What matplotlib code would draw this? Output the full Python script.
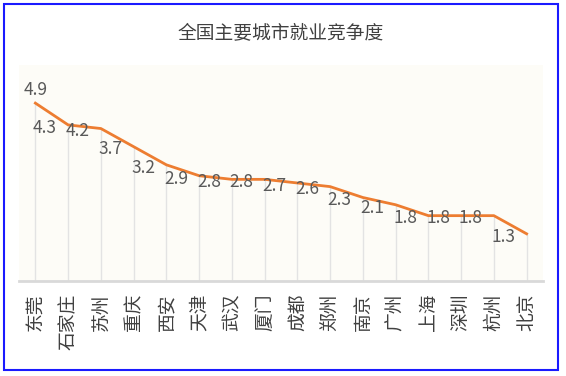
import matplotlib
matplotlib.use("Agg")
import matplotlib.pyplot as plt
from matplotlib.patches import Rectangle

plt.rcParams['font.family'] = ['Noto Sans CJK SC', 'DejaVu Sans']

cities = ['东莞', '石家庄', '苏州', '重庆', '西安', '天津', '武汉', '厦门',
          '成都', '郑州', '南京', '广州', '上海', '深圳', '杭州', '北京']
values = [4.9, 4.3, 4.2, 3.7, 3.2, 2.9, 2.8, 2.8, 2.7, 2.6, 2.3, 2.1, 1.8, 1.8, 1.8, 1.3]
title = '全国主要城市就业竞争度'

fig = plt.figure(figsize=(5.66, 3.76), dpi=100)
ax = fig.add_axes([19/566, 1-281/376, (543-19)/566, (281-65)/376])
ax.set_facecolor('#fdfcf7')

x = list(range(len(values)))
ax.vlines(x, 0, values, color='#e3e3e3', lw=1, zorder=1)
ax.plot(x, values, color='#ed7d31', lw=2, zorder=3)

# data labels: first one above, others left of the point
for i, v in enumerate(values):
    if i == 0:
        ax.annotate(f'{v}', (i, v), xytext=(0, 3), textcoords='offset points',
                    ha='center', va='bottom', fontsize=12.5, color='#595959')
    else:
        ax.annotate(f'{v}', (i, v), xytext=(-8, -2), textcoords='offset points',
                    ha='right', va='center', fontsize=12.5, color='#595959')

ax.set_xlim(-0.5, 15.5)
ax.set_ylim(0, 5.95)
ax.set_yticks([])
ax.set_xticks(x)
ax.set_xticklabels(cities, rotation=90, fontsize=13.5, color='#404040', va='top')
ax.tick_params(axis='x', length=0, pad=9)
for s in ['top', 'right', 'left']:
    ax.spines[s].set_visible(False)
ax.spines['bottom'].set_color('#d9d9d9')
ax.spines['bottom'].set_linewidth(2)

fig.text(281/566, 1-33/376, title, ha='center', va='center', fontsize=13.5, color='#404040')

fig.patches.append(Rectangle((4/566, 6/376), 554/566, 366/376, transform=fig.transFigure,
                             fill=False, edgecolor='#1a1aff', lw=1.5))

fig.savefig('out.png', dpi=100)
